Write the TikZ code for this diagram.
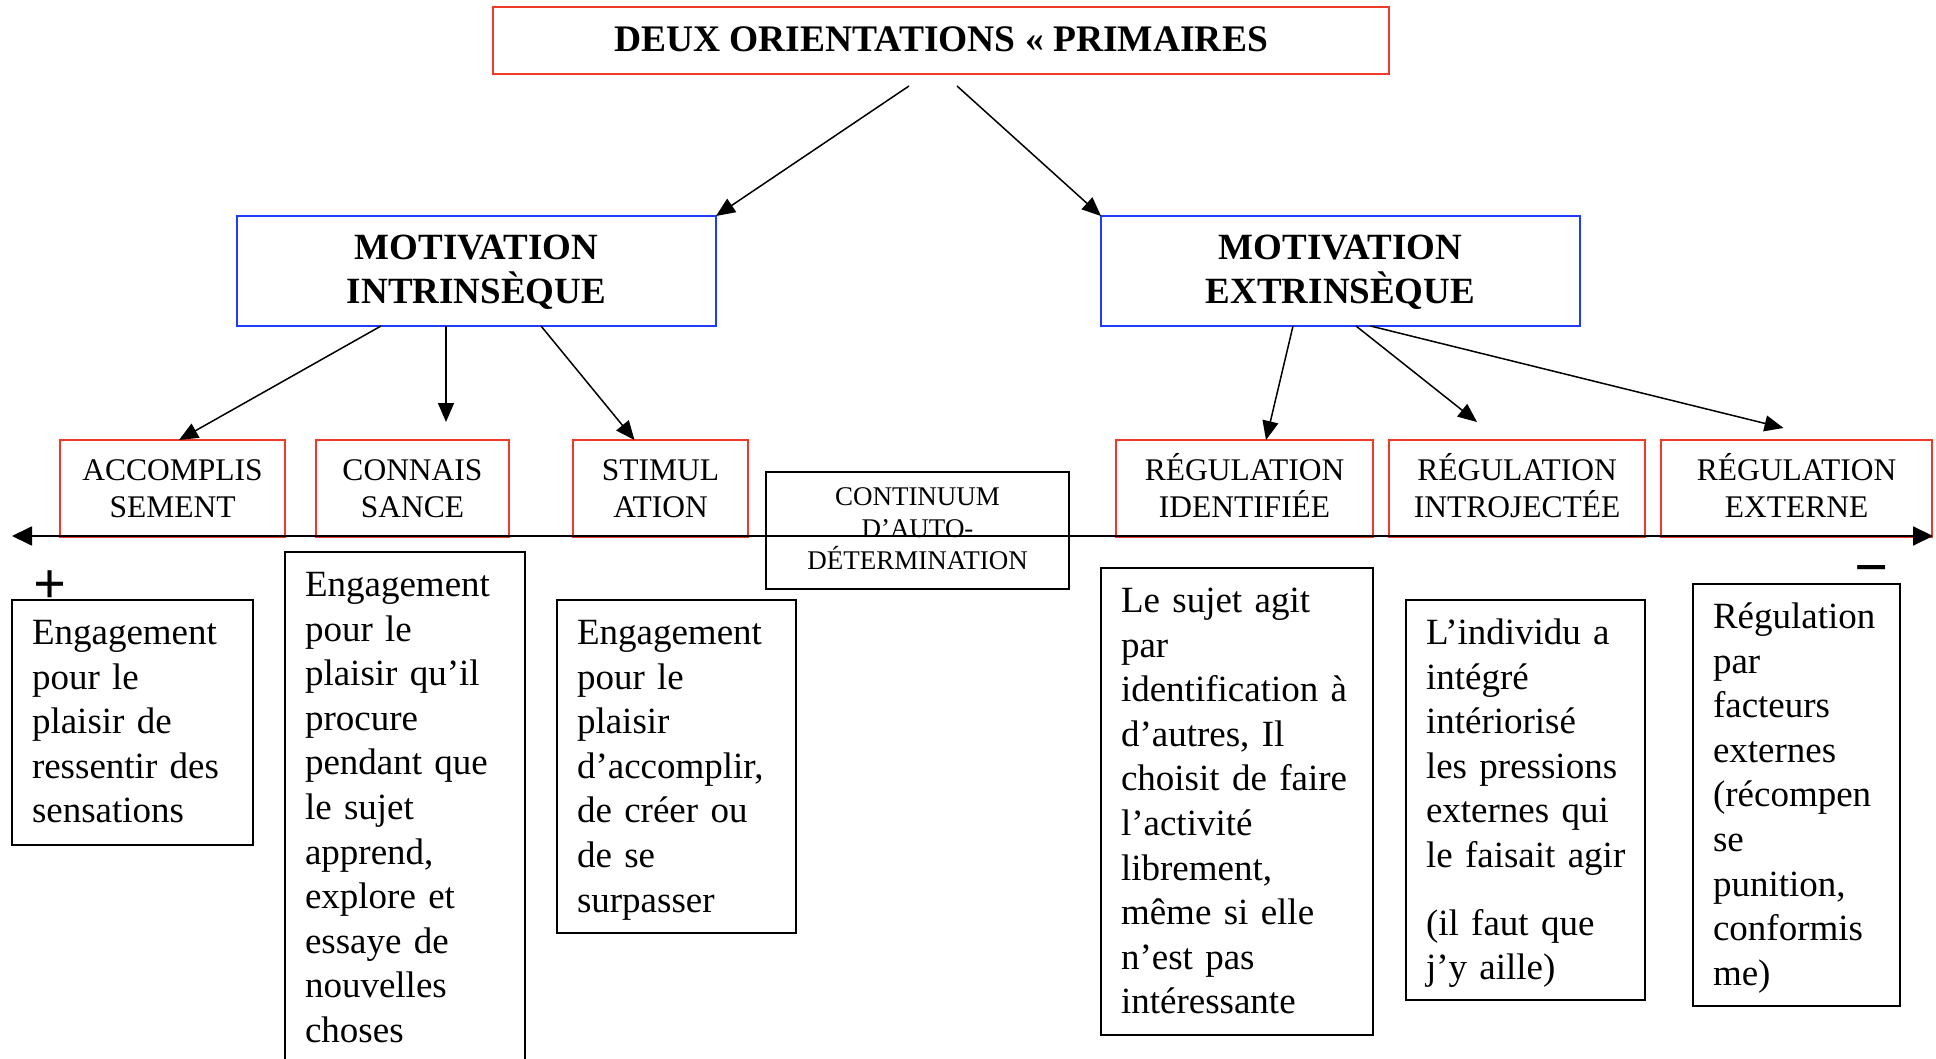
\documentclass[tikz,border=0pt]{standalone}
\usepackage{fontspec}
\setmainfont{Liberation Serif}
\usetikzlibrary{arrows.meta}
\definecolor{frameRed}{RGB}{240,58,40}
\definecolor{frameBlue}{RGB}{30,60,250}

\begin{document}
\begin{tikzpicture}[x=1pt,y=-1pt,
  every node/.style={inner sep=0pt, outer sep=0pt},
  execute at begin node={\hyphenpenalty=10000 \exhyphenpenalty=10000 },
  % centred multi-line labels sit on their last baseline
  titlebox/.style={draw=frameRed, line width=1.8pt, minimum width=896pt,
    text height=45pt, text depth=22pt,
    font=\fontsize{37.5}{44}\selectfont\bfseries},
  motivbox/.style={draw=frameBlue, line width=1.8pt, align=center,
    minimum width=479pt, text height=88pt, text depth=22pt,
    font=\fontsize{37}{44.5}\selectfont\bfseries},
  typebox/.style={draw=frameRed, line width=1.8pt, align=center,
    text height=77.5pt, text depth=19.5pt,
    font=\fontsize{31.5}{37}\selectfont},
  contbox/.style={draw=black, line width=1.5pt, align=center,
    minimum width=303pt, text height=97pt, text depth=20pt,
    font=\fontsize{27}{32}\selectfont},
  % wrapped descriptions sit on their first baseline
  notebox/.style={draw=black, line width=1.6pt, align=left, inner xsep=20pt,
    text height=44.5pt, font=\fontsize{37}{44.6}\selectfont},
  link/.style={line width=1.5pt, -{Triangle[length=19pt,width=16pt]}},
  axis/.style={line width=1.8pt,
    {Triangle[length=20pt,width=19pt]}-{Triangle[length=20pt,width=19pt]}},
]
\path[use as bounding box] (0,0) rectangle (1936,1059);

% top level
\node[titlebox] (title) at (941,40.5) {DEUX ORIENTATIONS « PRIMAIRES};

% the two kinds of motivation
\node[motivbox] (intr) at (476.5,271) {MOTIVATION\\INTRINSÈQUE};
\node[motivbox] (extr) at (1340.5,271) {MOTIVATION\\EXTRINSÈQUE};

% the six types
\node[typebox, minimum width=225pt] (acc)   at (172.5,488.5) {ACCOMPLIS\\SEMENT};
\node[typebox, minimum width=193pt] (con)   at (412.5,488.5) {CONNAIS\\SANCE};
\node[typebox, minimum width=175pt] (sti)   at (660.5,488.5) {STIMUL\\ATION};
\node[typebox, minimum width=257pt] (ide)   at (1244.5,488.5) {RÉGULATION\\IDENTIFIÉE};
\node[typebox, minimum width=256pt] (intro) at (1517,488.5) {RÉGULATION\\INTROJECTÉE};
\node[typebox, minimum width=271pt] (ext)   at (1796.5,488.5) {RÉGULATION\\EXTERNE};

\node[contbox] (cont) at (917.5,530.5) {CONTINUUM\\D’AUTO-\\DÉTERMINATION};

% descriptions (box height = 44.5pt + text depth)
\node[notebox, text width=201pt, text depth=200.5pt] (d1) at (132.5,722.5)
  {Engagement\\pour le\\plaisir de\\ressentir~des\\sensations};
\node[notebox, text width=200pt, text depth=466.5pt] (d2) at (405,807.5)
  {Engagement\\pour le\\plaisir~qu’il\\procure\\pendant~que\\le sujet\\apprend,\\explore et\\essaye de\\nouvelles\\choses};
\node[notebox, text width=199pt, text depth=288.5pt] (d3) at (676.5,766.5)
  {Engagement\\pour le\\plaisir\\d’accomplir,\\de créer ou\\de se\\surpasser};
\node[notebox, text width=232pt, text depth=422.5pt] (d4) at (1237,801.5)
  {Le sujet agit\\par\\identification~à\\d’autres, Il\\choisit~de~faire\\l’activité\\librement,\\même si elle\\n’est pas\\intéressante};
\node[notebox, text width=199pt, text depth=355.5pt] (d5) at (1525.5,800)
  {L’individu a\\intégré\\intériorisé\\les~pressions\\externes~qui\\le~faisait~agir\\[23pt](il faut que\\j’y aille)};
\node[notebox, text width=167pt, text depth=377.5pt] (d6) at (1796.5,795)
  {Régulation\\par\\facteurs\\externes\\(récompen\\se\\punition,\\conformis\\me)};

% ends of the continuum
\node[font=\fontsize{58}{58}\selectfont\bfseries] (plus) at (50,587) {+};
\node[font=\fontsize{60}{60}\selectfont\bfseries] (minus) at (1872,576.5) {−};

% connectors
\draw[link] ([xshift=-32pt,yshift=-12pt]title.south) -- (intr.north east);
\draw[link] ([xshift=16pt,yshift=-12pt]title.south) -- (extr.north west);

\draw[link] ([xshift=-95.5pt]intr.south) -- ([xshift=6.5pt]acc.north);
\draw[link] ([xshift=-30.5pt]intr.south) -- ([xshift=33.5pt,yshift=18pt]con.north);
\draw[link] ([xshift=64.5pt]intr.south) -- ([xshift=-26pt]sti.north);

\draw[link] ([xshift=-47.5pt]extr.south) -- ([xshift=21.5pt]ide.north);
\draw[link] ([xshift=15.5pt]extr.south) -- ([xshift=-40pt,yshift=18pt]intro.north);
\draw[link] ([xshift=30pt]extr.south) -- ([xshift=-13pt,yshift=12pt]ext.north);

% the self-determination axis
\coordinate (axL) at (12,536);
\coordinate (axR) at (1933,536);
\draw[axis] (axL) -- (axR);
\end{tikzpicture}
\end{document}
